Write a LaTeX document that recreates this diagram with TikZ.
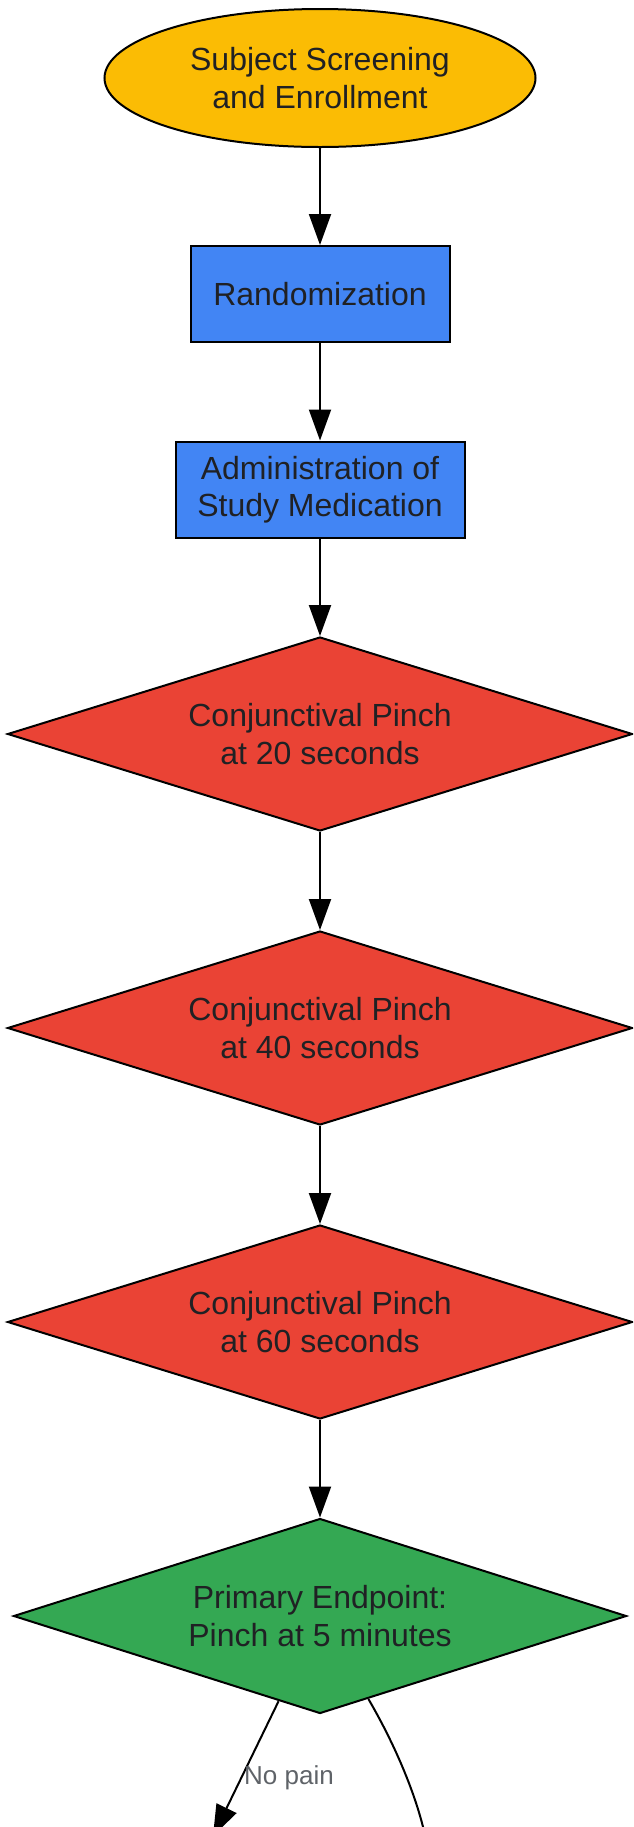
\documentclass[tikz,border=0pt]{standalone}
\usepackage{fontspec}
\setmainfont{Liberation Sans}
\usepackage{tikz}
\usetikzlibrary{shapes, arrows.meta, positioning}
\definecolor{enrollyellow}{HTML}{FBBC04}
\definecolor{stepblue}{HTML}{4285F4}
\definecolor{pinchred}{HTML}{EA4335}
\definecolor{endpointgreen}{HTML}{34A853}
\definecolor{textdark}{HTML}{202124}
\definecolor{labelgray}{HTML}{5F6368}
\tikzstyle{start} = [draw, ellipse, line width=1pt, fill=enrollyellow, text=textdark, align=center, inner sep=0pt, minimum width=215.5pt, minimum height=69pt, font=\fontsize{16}{18.75}\selectfont]
\tikzstyle{block} = [draw, rectangle, line width=1pt, fill=stepblue, text=textdark, align=center, inner sep=0pt, minimum height=48pt, font=\fontsize{16}{18.75}\selectfont]
\tikzstyle{decision} = [draw, diamond, shape aspect=3.2, line width=1pt, fill=pinchred, text=textdark, align=center, inner sep=0pt, minimum width=312.5pt, minimum height=97pt, font=\fontsize{16}{18.75}\selectfont]
\tikzstyle{wire} = [-{Triangle[length=15.5pt, width=11pt]}, line width=1pt]
\tikzstyle{edgelabel} = [text=labelgray, inner sep=1pt, font=\fontsize{13}{15}\selectfont]

\begin{document}
\begin{tikzpicture}[x=0.5pt, y=-0.5pt]
    \useasboundingbox (0,0) rectangle (633,1827);
    \clip (0,0) rectangle (633,1827);
    \node[start] (screen) at (320,78) {Subject Screening\\and Enrollment};
    \node[block, below of=screen, node distance=108pt, minimum width=129.5pt] (random) {Randomization};
    \node[block, below of=random, node distance=97.75pt, minimum width=144.5pt] (admin) {Administration of\\Study Medication};
    \node[decision, below of=admin, node distance=122.25pt] (pinch20) {Conjunctival Pinch\\at 20 seconds};
    \node[decision, below of=pinch20, node distance=147pt] (pinch40) {Conjunctival Pinch\\at 40 seconds};
    \node[decision, below of=pinch40, node distance=147pt] (pinch60) {Conjunctival Pinch\\at 60 seconds};
    \node[decision, below of=pinch60, node distance=147pt, fill=endpointgreen, minimum width=306.5pt, minimum height=97.5pt] (primary) {Primary Endpoint:\\Pinch at 5 minutes};
    \coordinate (nopain) at (213,1836);
    \coordinate (pain) at (432,1870);
    \draw[wire] (screen) -- (random);
    \draw[wire] (random) -- (admin);
    \draw[wire] (admin) -- (pinch20);
    \draw[wire] (pinch20) -- (pinch40);
    \draw[wire] (pinch40) -- (pinch60);
    \draw[wire] (pinch60) -- (primary);
    \draw[wire] (primary) -- node[edgelabel, pos=0.57, right] {No pain} (nopain);
    \draw[wire] (primary) .. controls (397,1748) and (418,1800) .. (pain);
  \end{tikzpicture}
\end{document}
